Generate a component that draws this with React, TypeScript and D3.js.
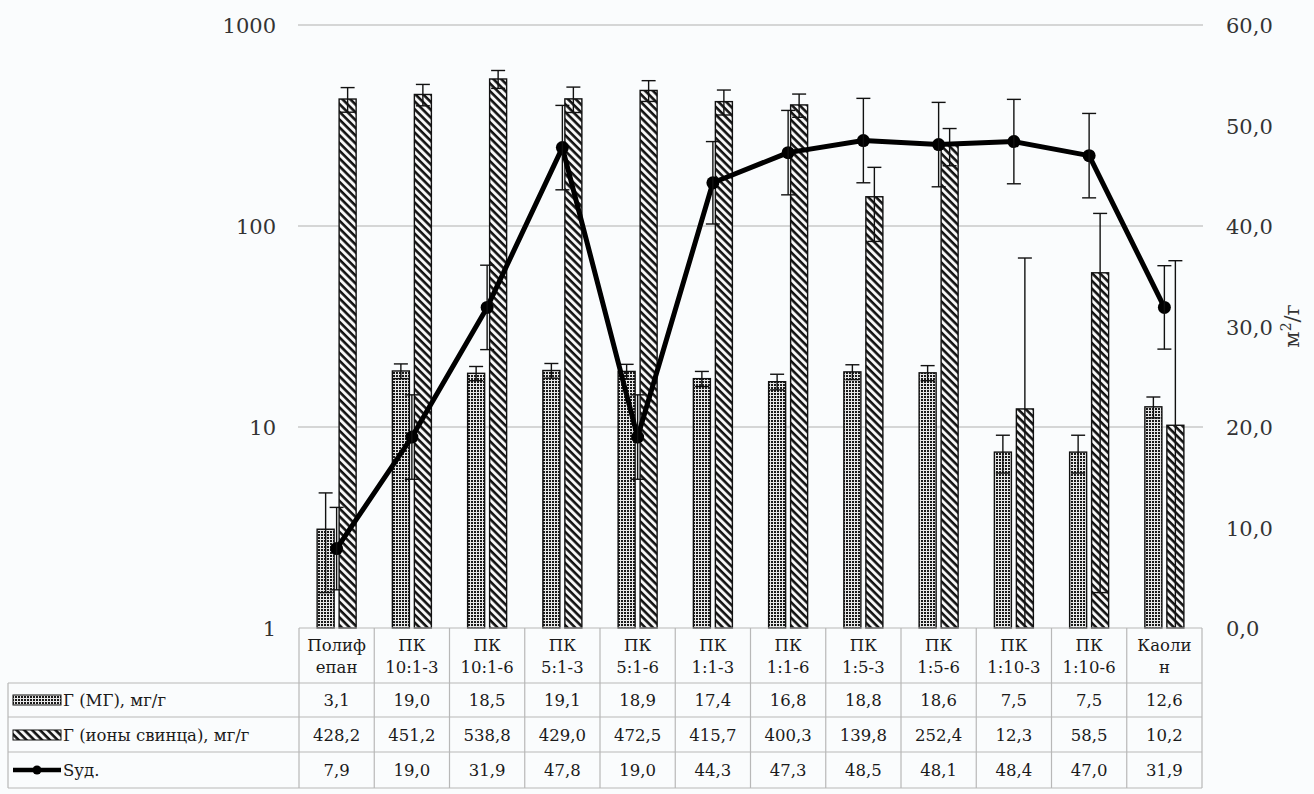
import React from 'react';
import * as d3 from 'd3';

const categories = [
  ['Полиф', 'епан'], ['ПК', '10:1-3'], ['ПК', '10:1-6'], ['ПК', '5:1-3'],
  ['ПК', '5:1-6'], ['ПК', '1:1-3'], ['ПК', '1:1-6'], ['ПК', '1:5-3'],
  ['ПК', '1:5-6'], ['ПК', '1:10-3'], ['ПК', '1:10-6'], ['Каоли', 'н'],
];
const mgValues = [3.1, 19.0, 18.5, 19.1, 18.9, 17.4, 16.8, 18.8, 18.6, 7.5, 7.5, 12.6];
const pbValues = [428.2, 451.2, 538.8, 429.0, 472.5, 415.7, 400.3, 139.8, 252.4, 12.3, 58.5, 10.2];
const sValues = [7.9, 19.0, 31.9, 47.8, 19.0, 44.3, 47.3, 48.5, 48.1, 48.4, 47.0, 31.9];
const mgErr = [1.6, 1.6, 1.5, 1.6, 1.6, 1.5, 1.5, 1.6, 1.6, 1.6, 1.6, 1.5];
const pbErr = [60, 55, 55, 62, 56, 59, 53, 56, 53, 57, 57, 57];
const sErr = [4.1, 4.2, 4.2, 4.2, 4.2, 4.1, 4.2, 4.2, 4.2, 4.2, 4.2, 4.15];
const leftTicks = [1, 10, 100, 1000];
const rightTicks = [0, 10, 20, 30, 40, 50, 60];
const seriesNames = ['Г (МГ), мг/г', 'Г (ионы свинца), мг/г', 'Sуд.'];

const W = 1314;
const H = 794;
const plotTop = 25;
const plotBottom = 628;
const plotLeft = 299;
const plotRight = 1202;
const rowY = [628, 683, 717, 752, 788];
const tableLeft = 8;

const comma = (v: number) => d3.format('.1f')(v).replace('.', ',');
const serif = '"DejaVu Serif", serif';

const App = () => {
  const idx = categories.map((_, i) => String(i));
  const x = d3.scaleBand().domain(idx).range([plotLeft, plotRight]).padding(0);
  const inner = d3.scaleBand().domain(['mg', 'pb'])
    .range([x.bandwidth() / 2 - 19.5, x.bandwidth() / 2 + 19.5])
    .paddingInner(0.227).paddingOuter(0);
  const yL = d3.scaleLog().domain([1, 1000]).range([plotBottom, plotTop]);
  const yR = d3.scaleLinear().domain([0, 60]).range([plotBottom, plotTop]);
  const cx = (i: number) => (x(String(i)) as number) + x.bandwidth() / 2;

  const line = d3.line<number>()
    .x((_, i) => cx(i))
    .y(d => yR(d));

  const cap = 7;
  const errBar = (key: string, xc: number, hi: number, lo: number | null) => (
    <g key={key} stroke="#111" strokeWidth={1.4}>
      <line x1={xc} x2={xc} y1={hi} y2={lo === null ? plotBottom : lo} />
      <line x1={xc - cap} x2={xc + cap} y1={hi} y2={hi} />
      {lo !== null && <line x1={xc - cap} x2={xc + cap} y1={lo} y2={lo} />}
    </g>
  );

  const bars = (vals: number[], errs: number[], key: 'mg' | 'pb', fill: string) =>
    vals.map((v, i) => {
      const bx = (x(String(i)) as number) + (inner(key) as number);
      const bw = inner.bandwidth();
      const lo = v - errs[i];
      return (
        <g key={key + i}>
          <rect x={bx} y={yL(v)} width={bw} height={plotBottom - yL(v)}
            fill={fill} stroke="#111" strokeWidth={1.4} />
          {errBar('e' + key + i, bx + bw / 2, yL(v + errs[i]), lo >= 1 ? yL(lo) : null)}
        </g>
      );
    });

  return (
    <div style={{ position: 'absolute', left: 0, top: 0, background: '#fafcfd' }}>
      <svg width={W} height={H} style={{ display: 'block', fontFamily: serif }}>
        <defs>
          <pattern id="dots" width={3} height={3} patternUnits="userSpaceOnUse">
            <rect width={3} height={3} fill="#e8e8e8" />
            <rect width={2} height={2} fill="#1a1a1a" />
          </pattern>
          <pattern id="hatch" width={5.5} height={5.5} patternUnits="userSpaceOnUse"
            patternTransform="rotate(-45)">
            <rect width={5.5} height={5.5} fill="#fafafa" />
            <line x1={1.5} x2={1.5} y1={0} y2={5.5} stroke="#111" strokeWidth={2.6} />
          </pattern>
        </defs>
        <rect width={W} height={H} fill="#fafcfd" />

        {/* gridlines */}
        {leftTicks.slice(1).map(t => (
          <line key={'g' + t} x1={plotLeft - 1} x2={plotRight + 1} y1={yL(t)} y2={yL(t)}
            stroke="#b0b0b0" strokeWidth={1.2} />
        ))}

        {/* left axis labels */}
        {leftTicks.map(t => (
          <text key={'l' + t} x={276} y={yL(t) + 8} textAnchor="end" fontSize={21} fill="#333">{t}</text>
        ))}
        {/* right axis labels */}
        {rightTicks.map(t => (
          <text key={'r' + t} x={1226} y={yR(t) + 8} fontSize={21} fill="#333">{comma(t)}</text>
        ))}
        <text transform="translate(1299,326) rotate(-90)" textAnchor="middle" fontSize={21} fill="#333">
          м<tspan dy={-8} fontSize={14}>2</tspan><tspan dy={8}>/г</tspan>
        </text>

        {bars(mgValues, mgErr, 'mg', 'url(#dots)')}
        {bars(pbValues, pbErr, 'pb', 'url(#hatch)')}

        <path d={line(sValues) as string} fill="none" stroke="#000" strokeWidth={5} strokeLinejoin="round" />
        {sValues.map((v, i) => (
          <circle key={'m' + i} cx={cx(i)} cy={yR(v)} r={6.5} fill="#000" />
        ))}
        {sValues.map((v, i) => errBar('se' + i, cx(i), yR(v + sErr[i]), yR(v - sErr[i])))}

        {/* data table */}
        <g stroke="#b8b8b8" strokeWidth={1.2}>
          <line x1={plotLeft} x2={plotRight} y1={rowY[0]} y2={rowY[0]} />
          {rowY.slice(1).map(y => (
            <line key={'h' + y} x1={tableLeft} x2={plotRight} y1={y} y2={y} />
          ))}
          <line x1={tableLeft} x2={tableLeft} y1={rowY[1]} y2={rowY[4]} />
          {idx.map(k => (
            <line key={'v' + k} x1={x(k)} x2={x(k)} y1={rowY[0]} y2={rowY[4]} />
          ))}
          <line x1={plotRight} x2={plotRight} y1={rowY[0]} y2={rowY[4]} />
        </g>
        <g fontSize={16.5} fill="#1a1a1a" textAnchor="middle">
          {categories.map((c, i) => (
            <g key={'c' + i}>
              <text x={cx(i)} y={651}>{c[0]}</text>
              <text x={cx(i)} y={673}>{c[1]}</text>
            </g>
          ))}
          {[mgValues, pbValues, sValues].map((vals, r) =>
            vals.map((v, i) => (
              <text key={'t' + r + i} x={cx(i)} y={(rowY[r + 1] + rowY[r + 2]) / 2 + 6}>{comma(v)}</text>
            )))}
        </g>

        {/* legend keys */}
        <rect x={13} y={695} width={48} height={10} fill="url(#dots)" stroke="#111" strokeWidth={1} />
        <rect x={13} y={730} width={48} height={10} fill="url(#hatch)" stroke="#111" strokeWidth={1} />
        <line x1={13} x2={61} y1={770} y2={770} stroke="#000" strokeWidth={4.5} />
        <circle cx={37} cy={770} r={4.5} fill="#000" />
        <g fontSize={16.5} fill="#1a1a1a">
          {seriesNames.map((n, r) => (
            <text key={'n' + r} x={63} y={(rowY[r + 1] + rowY[r + 2]) / 2 + 6}>{n}</text>
          ))}
        </g>
      </svg>
    </div>
  );
};

export default App;
